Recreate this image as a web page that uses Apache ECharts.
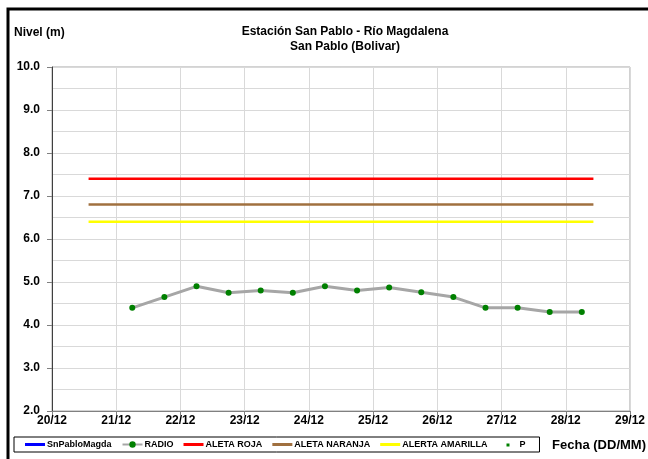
<!DOCTYPE html>
<html>
<head>
<meta charset="utf-8">
<script src="https://cdn.jsdelivr.net/npm/echarts@6/dist/echarts.min.js"></script>
<style>
  html, body { margin: 0; padding: 0; background: #fff; }
  #chart { width: 648px; height: 459px; }
</style>
</head>
<body>
<div id="chart"></div>
<script>
// lecturas del RADIO cada 12 h
const radioTimes = [
  '2011-12-21 06:00', '2011-12-21 18:00', '2011-12-22 06:00', '2011-12-22 18:00',
  '2011-12-23 06:00', '2011-12-23 18:00', '2011-12-24 06:00', '2011-12-24 18:00',
  '2011-12-25 06:00', '2011-12-25 18:00', '2011-12-26 06:00', '2011-12-26 18:00',
  '2011-12-27 06:00', '2011-12-27 18:00', '2011-12-28 06:00'
];
const radioValues = [4.40, 4.65, 4.90, 4.75, 4.80, 4.75, 4.90, 4.80, 4.87, 4.76, 4.65, 4.40, 4.40, 4.30, 4.30];

// niveles de alerta
const alertStart = '2011-12-20 13:40';
const alertEnd = '2011-12-28 10:20';
const alertaRoja = 7.4;
const alertaNaranja = 6.8;
const alertaAmarilla = 6.4;

const xMin = '2011-12-20 00:00';
const xMax = '2011-12-29 00:00';

const pad = n => (n < 10 ? '0' : '') + n;
const font = 'Liberation Sans, Arial, sans-serif';

// iconos de la leyenda
const lineIcon = 'path://M0,0 L20,0 L20,3 L0,3 Z';
const dotIcon = 'path://M0,0 M20,8 M9,3 L12,3 L12,6 L9,6 Z';

const chart = echarts.init(document.getElementById('chart'));

const alertLine = (name, value, color) => ({
  name,
  type: 'line',
  symbol: 'none',
  data: [[alertStart, value], [alertEnd, value]],
  lineStyle: { color, width: 2.5 },
  itemStyle: { color },
  silent: true,
  z: 2
});

chart.setOption({
  animation: false,
  textStyle: { fontFamily: font },
  grid: {
    left: 52, right: 17, top: 67, bottom: 48,
    show: true, borderColor: '#a6a6a6', borderWidth: 1
  },
  graphic: [
    {
      type: 'polyline',
      shape: { points: [[8, 459], [8, 9], [648, 9]] },
      style: { stroke: '#000', lineWidth: 3, fill: null }
    },
    {
      type: 'text', left: 14, top: 27,
      style: { text: 'Nivel (m)', font: 'bold 12px ' + font, fill: '#000' }
    },
    {
      type: 'text', x: 345, y: 24,
      style: {
        text: 'Estación San Pablo - Río Magdalena\nSan Pablo (Bolivar)',
        font: 'bold 12px ' + font, fill: '#000', align: 'center', lineHeight: 15
      }
    },
    {
      type: 'text', x: 646, y: 439,
      style: { text: 'Fecha (DD/MM)', font: 'bold 13px ' + font, fill: '#000', align: 'right' }
    }
  ],
  legend: {
    left: 14, top: 437,
    padding: [3, 14, 3, 11],
    itemGap: 10,
    itemWidth: 20,
    itemHeight: 8,
    borderColor: '#000', borderWidth: 1,
    textStyle: { fontSize: 9, fontWeight: 'bold', color: '#000', padding: [0, 0, 0, -3] },
    data: [
      { name: 'SnPabloMagda', icon: lineIcon },
      { name: 'RADIO' },
      { name: 'ALETA ROJA', icon: lineIcon },
      { name: 'ALETA NARANJA', icon: lineIcon },
      { name: 'ALERTA AMARILLA', icon: lineIcon },
      { name: 'P', icon: dotIcon }
    ]
  },
  xAxis: {
    type: 'time',
    min: xMin, max: xMax,
    minInterval: 86400000, maxInterval: 86400000,
    axisLine: { lineStyle: { color: '#808080', width: 1 } },
    axisTick: { show: true, length: 4, lineStyle: { color: '#808080' } },
    axisLabel: {
      margin: 4, color: '#000', fontSize: 12, fontWeight: 'bold',
      showMinLabel: true, showMaxLabel: true, hideOverlap: false,
      formatter: v => { const d = new Date(v); return pad(d.getDate()) + '/' + pad(d.getMonth() + 1); }
    },
    splitLine: { show: true, lineStyle: { color: '#d9d9d9' } }
  },
  yAxis: {
    type: 'value',
    min: 2, max: 10, interval: 1,
    axisLine: { show: true, lineStyle: { color: '#404040', width: 1 } },
    axisTick: { show: true, length: 5, lineStyle: { color: '#808080' } },
    axisLabel: {
      margin: 12, color: '#000', fontSize: 12, fontWeight: 'bold',
      formatter: v => v.toFixed(1)
    },
    splitLine: { show: true, lineStyle: { color: '#d9d9d9' } },
    minorTick: { show: false, splitNumber: 2 },
    minorSplitLine: { show: true, lineStyle: { color: '#d9d9d9' } }
  },
  series: [
    {
      name: 'SnPabloMagda', type: 'line', symbol: 'none', data: [],
      lineStyle: { color: '#0000ff', width: 2.5 }, itemStyle: { color: '#0000ff' }
    },
    {
      name: 'RADIO', type: 'line',
      data: radioTimes.map((t, i) => [t, radioValues[i]]),
      symbol: 'circle', symbolSize: 6,
      lineStyle: { color: '#a6a6a6', width: 3 },
      itemStyle: { color: '#008000' },
      z: 3
    },
    alertLine('ALETA ROJA', alertaRoja, '#ff0000'),
    alertLine('ALETA NARANJA', alertaNaranja, '#a0703f'),
    alertLine('ALERTA AMARILLA', alertaAmarilla, '#ffff00'),
    {
      name: 'P', type: 'line', data: [],
      symbol: 'circle', symbolSize: 3,
      lineStyle: { width: 0, opacity: 0 },
      itemStyle: { color: '#008000' }
    }
  ]
});
</script>
</body>
</html>
